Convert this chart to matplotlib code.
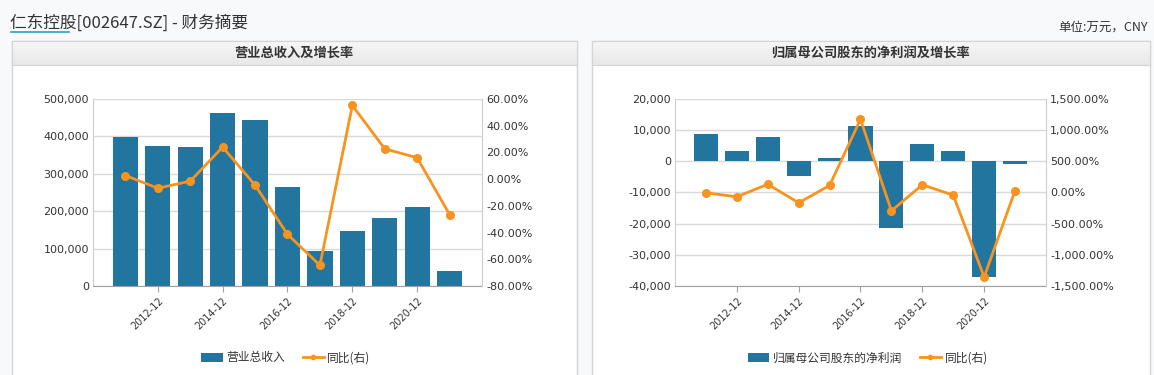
import numpy as np
import matplotlib
matplotlib.use('Agg')
import matplotlib.pyplot as plt
from matplotlib.patches import Rectangle, Patch
from matplotlib.lines import Line2D
from matplotlib.ticker import FuncFormatter

plt.rcParams['font.family'] = ['Noto Sans CJK SC', 'DejaVu Sans']

# data (万元 / %)
periods = ['2011-12', '2012-12', '2013-12', '2014-12', '2015-12', '2016-12',
           '2017-12', '2018-12', '2019-12', '2020-12', '2021-12']
revenue = [397600, 374000, 371700, 462600, 443900, 264700, 94400, 147000, 181800, 211000, 40000]
revenue_yoy = [2.7, -6.8, -1.5, 24.0, -4.5, -41.3, -64.5, 55.2, 22.7, 16.0, -26.5]
profit = [8700, 3200, 7700, -4700, 1000, 11250, -21500, 5500, 3200, -37200, -1000]
profit_yoy = [-5, -69, 133, -166, 113, 1174, -294, 124, -43, -1356, 32]

W, H = 1154, 375
BAR = '#22759f'
LINE = '#f7931e'
TXT = '#333333'
GRID = '#d9d9d9'
AXC = '#a0a0a0'

fig = plt.figure(figsize=(W / 100, H / 100), dpi=100)
fig.patch.set_facecolor('#f8f9fb')


def fx(x):
    return x / W


def fy(y):
    return 1 - y / H


# panels
for x0, x1 in [(12, 577), (592, 1150)]:
    fig.patches.append(Rectangle((fx(x0), fy(380)), fx(x1 - x0), (380 - 41) / H,
                                 transform=fig.transFigure, facecolor='white',
                                 edgecolor='#d4d4d4', lw=1, zorder=-10))
    hax = fig.add_axes([fx(x0), fy(65), fx(x1 - x0), 24 / H])
    grad = np.linspace(0, 1, 50).reshape(-1, 1)
    hax.imshow(grad, aspect='auto', cmap=matplotlib.colors.LinearSegmentedColormap.from_list(
        'g', ['#f7f7f7', '#e8e8e8']), extent=[0, 1, 0, 1])
    hax.set_xticks([])
    hax.set_yticks([])
    for s in hax.spines.values():
        s.set_color('#d4d4d4')

# page title
fig.text(fx(10), fy(23), '仁东控股[002647.SZ] - 财务摘要', fontsize=12, color=TXT, va='center')
fig.add_artist(Line2D([fx(11), fx(69)], [fy(32), fy(32)], color='#1aa6c9', lw=1.2))
fig.text(fx(1148), fy(27), '单位:万元，CNY', fontsize=9, color=TXT, ha='right', va='center')
fig.text(fx(294), fy(53), '营业总收入及增长率', fontsize=9.5, fontweight='bold', color=TXT,
         ha='center', va='center')
fig.text(fx(871), fy(53), '归属母公司股东的净利润及增长率', fontsize=9.5, fontweight='bold',
         color=TXT, ha='center', va='center')


def draw(rect, bars, yoy, ylim, ystep, y2lim, y2step, bar_name, leg_x):
    ax = fig.add_axes(rect)
    ax.patch.set_alpha(0)
    x = np.arange(len(periods))
    ax.bar(x, bars, width=0.78, color=BAR, zorder=2)
    ax.set_xlim(-1, len(periods))
    ax.set_ylim(*ylim)
    ax.set_yticks(np.arange(ylim[0], ylim[1] + 1, ystep))
    ax.yaxis.set_major_formatter(FuncFormatter(lambda v, p: f'{v:,.0f}'))
    ax.grid(axis='y', color=GRID, lw=1)
    ax.set_axisbelow(True)
    ax.set_xticks(x[1::2])
    ax.set_xticklabels(periods[1::2], rotation=45, ha='right', va='top',
                       rotation_mode='anchor', fontsize=7, family='DejaVu Sans', color=TXT)
    ax.tick_params(axis='x', length=4, color=AXC, pad=3)
    ax.tick_params(axis='y', length=0, labelsize=8, labelcolor=TXT, pad=3)
    for lab in ax.get_yticklabels():
        lab.set_family('DejaVu Sans')
    ax.spines['top'].set_visible(False)
    ax.spines['right'].set_visible(False)
    ax.spines['left'].set_color('#cccccc')
    ax.spines['bottom'].set_color(AXC)

    ax2 = ax.twinx()
    ax2.plot(x, yoy, color=LINE, lw=2, marker='o', ms=5.5, zorder=3)
    ax2.set_ylim(*y2lim)
    ax2.set_yticks(np.arange(y2lim[0], y2lim[1] + 1, y2step))
    ax2.yaxis.set_major_formatter(FuncFormatter(lambda v, p: f'{v:,.2f}%'))
    ax2.tick_params(axis='y', length=0, labelsize=8, labelcolor=TXT, pad=3)
    for lab in ax2.get_yticklabels():
        lab.set_family('DejaVu Sans')
    for s in ['top', 'left', 'bottom']:
        ax2.spines[s].set_visible(False)
    ax2.spines['right'].set_color('#cccccc')

    handles = [Patch(facecolor=BAR, edgecolor='none'),
               Line2D([], [], color=LINE, lw=2, marker='o', ms=3)]
    fig.legend(handles, [bar_name, '同比(右)'], loc='center', ncol=2,
               bbox_to_anchor=(fx(leg_x), fy(358)), frameon=False, fontsize=8.5,
               handlelength=1.8, handleheight=0.8, handletextpad=0.3,
               columnspacing=1.5, labelcolor=TXT)
    return ax, ax2


draw([fx(93), fy(286), fx(389), 187 / H], revenue, revenue_yoy,
     (0, 500000), 100000, (-80, 60), 20, '营业总收入', 286)
draw([fx(675), fy(286), fx(371), 187 / H], profit, profit_yoy,
     (-40000, 20000), 10000, (-1500, 1500), 500, '归属母公司股东的净利润', 868)

fig.savefig('out.png', dpi=100, facecolor=fig.get_facecolor())
